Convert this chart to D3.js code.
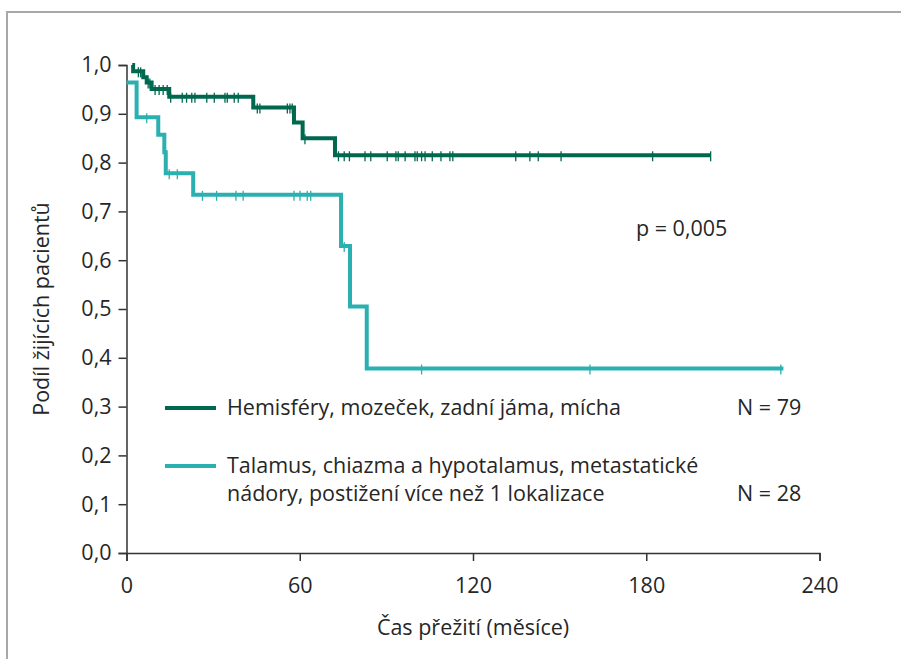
<!DOCTYPE html>
<html>
<head>
<meta charset="utf-8">
<script src="https://cdn.jsdelivr.net/npm/d3@7"></script>
<style>
  body { margin: 0; background: #fff; }
  text { font-family: "Open Sans", "Noto Sans", sans-serif; fill: #262626; }
</style>
</head>
<body>
<div id="chart"></div>
<script>
// Kaplan-Meier curves (time in months, proportion alive)
const xTicks = [0, 60, 120, 180, 240];
const yTicks = [0, 0.1, 0.2, 0.3, 0.4, 0.5, 0.6, 0.7, 0.8, 0.9, 1.0];

// group 1: Hemisféry, mozeček, zadní jáma, mícha (N = 79)
const g1StepTimes = [2.0, 2.3, 5.8, 7.0, 8.7, 14.8, 43.9, 58.0, 61.0, 72.2];
const g1StepValues = [1.0, 0.987, 0.975, 0.964, 0.951, 0.935, 0.913, 0.882, 0.850, 0.815];
const g1End = 202.3;
const g1Censored = [4.1, 4.9, 7.5, 8.1, 9.9, 11.3, 12.7, 14.1, 15.3, 19.3, 20.8, 22.6, 23.7,
  27.8, 30.4, 34.1, 34.9, 37.3, 38.7, 45.3, 46.2, 55.7, 56.6, 57.4, 61.8, 73.4, 75.4, 77.2,
  82.6, 84.6, 90.3, 93.3, 94.1, 96.5, 99.9, 100.7, 102.2, 103.4, 105.9, 108.9, 112.0, 113.0,
  134.8, 139.7, 142.6, 150.5, 182.2, 202.3];

// group 2: Talamus, chiazma a hypotalamus, ... (N = 28)
const g2StepTimes = [0, 3.5, 11.0, 13.1, 13.6, 23.1, 74.3, 77.4, 83.2];
const g2StepValues = [0.964, 0.893, 0.857, 0.821, 0.778, 0.734, 0.629, 0.505, 0.378];
const g2End = 227.5;
const g2Censored = [7.0, 14.8, 17.6, 26.3, 31.2, 37.9, 40.4, 58.0, 60.1, 62.6, 63.8, 75.4,
  102.2, 160.5, 226.6];

const colors = { g1: "#00684f", g2: "#2bb0b1" };
const fontSize = "21.5px";

const width = 901, height = 659;
const svg = d3.select("#chart").append("svg")
  .attr("width", width).attr("height", height);

// frame
svg.append("rect")
  .attr("x", 7).attr("y", 12).attr("width", 1000).attr("height", 1000)
  .attr("fill", "none").attr("stroke", "#a8a8a8").attr("stroke-width", 2);

const xScale = d3.scaleLinear().domain([0, 240]).range([126.5, 819.5]);
const yScale = d3.scaleLinear().domain([0, 1]).range([553, 65]);

// axes
const yAxis = svg.append("g")
  .attr("transform", `translate(${xScale(0)},0)`)
  .call(d3.axisLeft(yScale).tickValues(yTicks).tickSize(8).tickPadding(7)
    .tickFormat(d => d3.format(".1f")(d).replace(".", ",")));
const xAxis = svg.append("g")
  .attr("transform", `translate(0,${yScale(0)})`)
  .call(d3.axisBottom(xScale).tickValues(xTicks).tickSize(8).tickPadding(17));
[xAxis, yAxis].forEach(ax => {
  ax.select(".domain").attr("stroke", "#333").attr("stroke-width", 1.5);
  ax.selectAll(".tick line").attr("stroke", "#333").attr("stroke-width", 1.5);
  ax.selectAll(".tick text").attr("font-size", fontSize).attr("fill", "#262626")
    .attr("font-family", '"Open Sans", sans-serif');
});

svg.append("text")
  .attr("x", xScale(120)).attr("y", 635)
  .attr("text-anchor", "middle").attr("font-size", fontSize)
  .text("Čas přežití (měsíce)");
svg.append("text")
  .attr("transform", `translate(49,${yScale(0.5)}) rotate(-90)`)
  .attr("text-anchor", "middle").attr("font-size", fontSize)
  .text("Podíl žijících pacientů");

function drawCurve(times, values, end, censored, color) {
  const pts = times.map((t, i) => [t, values[i]]);
  pts.push([end, values[values.length - 1]]);
  const line = d3.line()
    .x(d => xScale(d[0])).y(d => yScale(d[1]))
    .curve(d3.curveStepAfter);
  svg.append("path")
    .datum(pts)
    .attr("d", line)
    .attr("fill", "none")
    .attr("stroke", color)
    .attr("stroke-width", 4);

  const valueAt = t => {
    let v = values[0];
    times.forEach((st, i) => { if (st <= t) v = values[i]; });
    return v;
  };
  svg.append("g").selectAll("line")
    .data(censored)
    .enter()
    .append("line")
    .attr("x1", d => xScale(d)).attr("x2", d => xScale(d))
    .attr("y1", d => yScale(valueAt(d)) - 4)
    .attr("y2", d => yScale(valueAt(d)) + 6)
    .attr("stroke", color)
    .attr("stroke-width", 1.3);
}

drawCurve(g2StepTimes, g2StepValues, g2End, g2Censored, colors.g2);
drawCurve(g1StepTimes, g1StepValues, g1End, g1Censored, colors.g1);

// p-value
svg.append("text")
  .attr("x", 636).attr("y", 236).attr("font-size", fontSize)
  .text("p = 0,005");

// legend
const legend = svg.append("g");
legend.append("line").attr("x1", 165).attr("x2", 216).attr("y1", 408).attr("y2", 408)
  .attr("stroke", colors.g1).attr("stroke-width", 4);
legend.append("line").attr("x1", 165).attr("x2", 216).attr("y1", 466).attr("y2", 466)
  .attr("stroke", colors.g2).attr("stroke-width", 4);
legend.append("text").attr("x", 227).attr("y", 415).attr("font-size", fontSize)
  .text("Hemisféry, mozeček, zadní jáma, mícha");
legend.append("text").attr("x", 227).attr("y", 473).attr("font-size", fontSize)
  .text("Talamus, chiazma a hypotalamus, metastatické");
legend.append("text").attr("x", 227).attr("y", 501).attr("font-size", fontSize)
  .text("nádory, postižení více než 1 lokalizace");
legend.append("text").attr("x", 737).attr("y", 415).attr("font-size", fontSize)
  .text("N = 79");
legend.append("text").attr("x", 737).attr("y", 501).attr("font-size", fontSize)
  .text("N = 28");
</script>
</body>
</html>
